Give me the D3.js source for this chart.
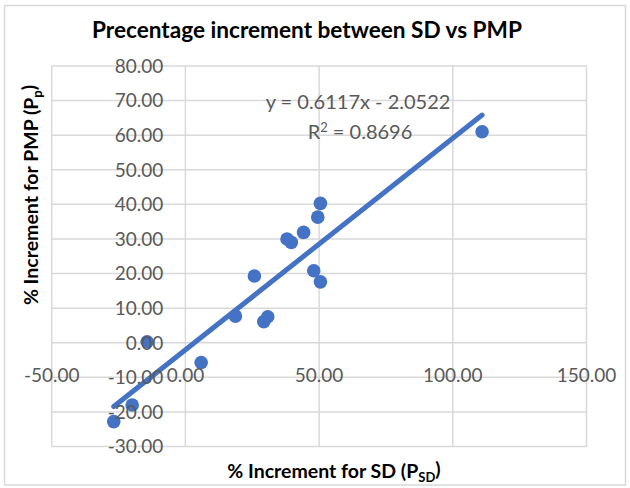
<!DOCTYPE html>
<html>
<head>
<meta charset="utf-8">
<script src="https://cdn.jsdelivr.net/npm/d3@7/dist/d3.min.js"></script>
<style>
  html, body { margin: 0; padding: 0; background: #fff; }
  svg { display: block; }
  text { font-family: Lato, "Open Sans", sans-serif; }
</style>
</head>
<body>
<svg id="chart" width="630" height="488"></svg>
<script>
// ---- data ----
const psd = [-26.8, -19.9, -14.3, 5.9, 18.7, 25.8, 29.3, 30.8, 38.0, 39.6, 44.2, 48.0, 50.5, 49.5, 50.5, 110.95];
const pmp = [-22.8, -18.0, 0.3, -5.7, 7.7, 19.3, 6.1, 7.5, 30.0, 29.0, 31.9, 20.8, 17.6, 36.3, 40.3, 61.0];
const xTicks = [-50, 0, 50, 100, 150];
const yTicks = [-30, -20, -10, 0, 10, 20, 30, 40, 50, 60, 70, 80];
const slope = 0.6117, intercept = -2.0522;
const eqLabel = "y = 0.6117x - 2.0522";
const r2Value = "0.8696";
const title = "Precentage increment between SD vs PMP";

const svg = d3.select("#chart");
const blue = "#4472C4", grid = "#d9d9d9", tickCol = "#595959";

svg.append("rect").attr("x", 0).attr("y", 0).attr("width", 630).attr("height", 488).attr("fill", "#fff");
svg.append("rect").attr("x", 4.5).attr("y", 5.5).attr("width", 621).attr("height", 479.5)
  .attr("fill", "none").attr("stroke", grid).attr("stroke-width", 1.5);

const x = d3.scaleLinear().domain([-50, 150]).range([51.7, 586.5]);
const y = d3.scaleLinear().domain([-30, 80]).range([446.5, 66]);

// gridlines
const g = svg.append("g");
g.selectAll(".hg").data(yTicks).join("line")
  .attr("x1", x(-50)).attr("x2", x(150))
  .attr("y1", d => y(d)).attr("y2", d => y(d))
  .attr("stroke", grid).attr("stroke-width", 1.5);
g.selectAll(".vg").data(xTicks).join("line")
  .attr("y1", y(-30)).attr("y2", y(80))
  .attr("x1", d => x(d)).attr("x2", d => x(d))
  .attr("stroke", grid).attr("stroke-width", 1.5);

// points
const pts = psd.map((v, i) => [v, pmp[i]]);
svg.append("g").selectAll("circle").data(pts).join("circle")
  .attr("cx", d => x(d[0])).attr("cy", d => y(d[1])).attr("r", 6.8).attr("fill", blue);

// trendline
const xmin = d3.min(psd), xmax = d3.max(psd);
svg.append("line")
  .attr("x1", x(xmin)).attr("y1", y(slope * xmin + intercept))
  .attr("x2", x(xmax)).attr("y2", y(slope * xmax + intercept))
  .attr("stroke", blue).attr("stroke-width", 5).attr("stroke-linecap", "round");

// tick labels
const fs = 19;
svg.append("g").selectAll("text").data(yTicks).join("text")
  .attr("x", x(0) - 22).attr("y", d => y(d)).attr("dy", "0.36em")
  .attr("text-anchor", "end").attr("font-size", fs).attr("fill", tickCol)
  .text(d => d.toFixed(2));
svg.append("g").selectAll("text").data(xTicks).join("text")
  .attr("x", d => x(d)).attr("y", y(0) + 32).attr("dy", "0.36em")
  .attr("text-anchor", "middle").attr("font-size", fs).attr("fill", tickCol)
  .text(d => d.toFixed(2));

// trend equation
svg.append("text").attr("x", 358).attr("y", 101.7).attr("dy", "0.36em")
  .attr("text-anchor", "middle").attr("font-size", 20).attr("fill", tickCol).text(eqLabel);
const r2 = svg.append("text").attr("x", 360).attr("y", 131.7).attr("dy", "0.36em")
  .attr("text-anchor", "middle").attr("font-size", 20).attr("fill", tickCol);
r2.append("tspan").text("R");
r2.append("tspan").attr("font-size", 13).attr("dy", "-0.55em").text("2");
r2.append("tspan").attr("dy", "0.36em").text(" = " + r2Value);

// title
svg.append("text").attr("x", 307).attr("y", 30).attr("dy", "0.36em")
  .attr("text-anchor", "middle").attr("font-size", 22.6).attr("font-weight", "bold").attr("fill", "#000")
  .text(title);

// x axis title
const xt = svg.append("text").attr("x", 334).attr("y", 471).attr("dy", "0.36em")
  .attr("text-anchor", "middle").attr("font-size", 19.5).attr("font-weight", "bold").attr("fill", "#000");
xt.append("tspan").text("% Increment for SD (P");
xt.append("tspan").attr("font-size", 13).attr("dy", "0.3em").text("SD");
xt.append("tspan").attr("dy", "-0.3em").text(")");

// y axis title
const yt = svg.append("text").attr("transform", "translate(31,195) rotate(-90)").attr("dy", "0.36em")
  .attr("text-anchor", "middle").attr("font-size", 19.5).attr("font-weight", "bold").attr("fill", "#000");
yt.append("tspan").text("% Increment for PMP (P");
yt.append("tspan").attr("font-size", 13).attr("dy", "0.3em").text("p");
yt.append("tspan").attr("dy", "-0.3em").text(")");
</script>
</body>
</html>
